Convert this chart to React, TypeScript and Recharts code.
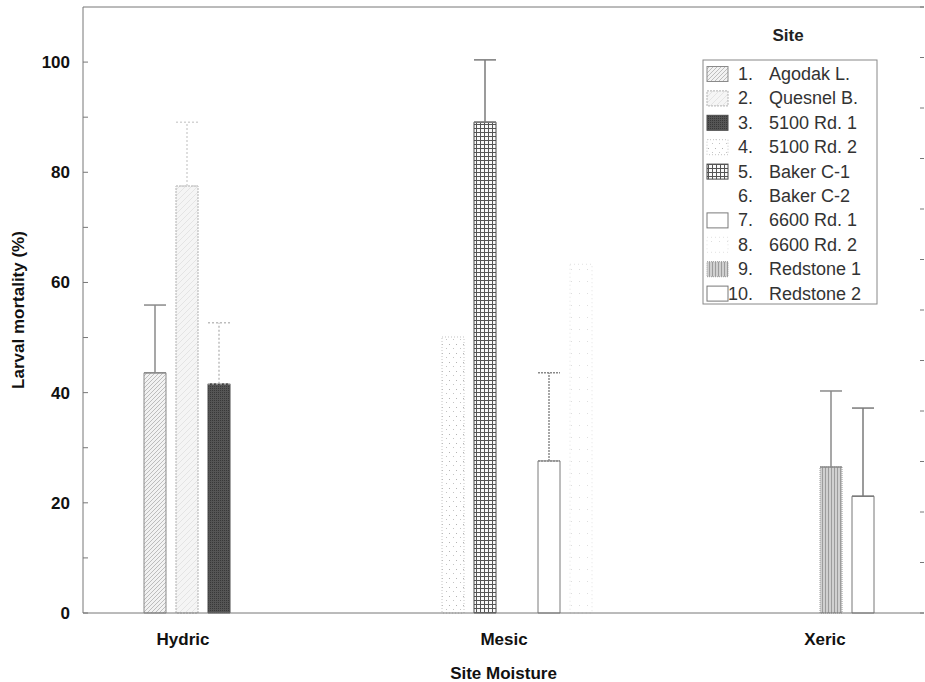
import React from "react";
import { BarChart, Bar, XAxis, YAxis, ErrorBar, Legend } from "recharts";

const moistureClasses = ["Hydric", "Mesic", "Xeric"];

const siteNames = [
  "Agodak L.",
  "Quesnel B.",
  "5100 Rd. 1",
  "5100 Rd. 2",
  "Baker C-1",
  "Baker C-2",
  "6600 Rd. 1",
  "6600 Rd. 2",
  "Redstone 1",
  "Redstone 2",
];

const siteMoisture = [
  "Hydric", "Hydric", "Hydric",
  "Mesic", "Mesic", "Mesic", "Mesic", "Mesic",
  "Xeric", "Xeric",
];

// mean larval mortality (%) and upper error whisker
const mortality = [43.6, 77.5, 41.6, 50.1, 89.1, 61.2, 27.6, 63.3, 26.5, 21.2];
const upperError = [12.3, 11.6, 11.1, null, 11.3, null, 16.0, null, 13.8, 16.0];

const yTicks = [0, 10, 20, 30, 40, 50, 60, 70, 80, 90, 100];
const rightTicks = [0, 1, 2, 3, 4, 5, 6, 7, 8, 9, 10, 11, 12];

// bar looks
const siteFill = [
  "url(#site1)", "url(#site2)", "url(#site3)", "url(#site4)", "url(#site5)",
  "#ffffff", "#ffffff", "url(#site8)", "url(#site9)", "#ffffff",
];
const siteStroke = ["#8a8a8a", "#b0b0b0", "#4a4a4a", "#c4c4c4", "#4a4a4a", "none", "#7a7a7a", "#e2e2e2", "#9a9a9a", "#777"];
const siteDash = ["", "2 1", "", "1 2", "", "", "", "1 3", "1 1", ""];
const errStroke = ["#8a8a8a", "#d4d4d4", "#bdbdbd", "#ccc", "#7a7a7a", "#ccc", "#8a8a8a", "#ccc", "#8a8a8a", "#7a7a7a"];
const errDash = ["", "2 2", "2 2", "", "", "", "2 1", "", "", ""];

const font = "'Liberation Sans', Arial, sans-serif";

const data = moistureClasses.map((m) => {
  const row: Record<string, any> = { moisture: m };
  siteNames.forEach((_, i) => {
    const mine = siteMoisture[i] === m;
    row[`s${i + 1}`] = mine ? mortality[i] : null;
    row[`e${i + 1}`] = mine && upperError[i] != null ? [0, upperError[i]] : null;
  });
  return row;
});

const NoLabel = () => <g />;

function SiteLegend(props: any) {
  const items = [...(props.payload || [])].sort(
    (a: any, b: any) => Number(String(a.dataKey).slice(1)) - Number(String(b.dataKey).slice(1))
  );
  return (
    <svg width={185} height={290} style={{ display: "block" }}>
      <text x={88} y={15} textAnchor="middle" dominantBaseline="central"
        fontFamily={font} fontSize={17} fontWeight="bold" fill="#222">
        Site
      </text>
      <rect x={3} y={40} width={174} height={244} fill="#fff" stroke="#888" />
      {items.map((it: any) => {
        const i = Number(String(it.dataKey).slice(1)) - 1;
        const cy = 54 + i * 24.4;
        return (
          <g key={it.dataKey}>
            <rect x={7} y={cy - 7.5} width={21} height={15} fill={siteFill[i]}
              stroke={siteStroke[i]} strokeDasharray={siteDash[i] || undefined} />
            <text x={53} y={cy} textAnchor="end" dominantBaseline="central"
              fontFamily={font} fontSize={18} fill="#333">
              {`${i + 1}.`}
            </text>
            <text x={69} y={cy} dominantBaseline="central"
              fontFamily={font} fontSize={18} fill="#333">
              {it.value}
            </text>
          </g>
        );
      })}
    </svg>
  );
}

export default function App() {
  return (
    <div style={{ position: "absolute", left: 0, top: 0, width: 925, height: 682, background: "#fff" }}>
      <BarChart width={925} height={682} data={data}
        margin={{ top: 6, right: 0, bottom: 0, left: 8 }} barSize={22} barGap={10}>
        <defs>
          <pattern id="site1" width="4" height="4" patternUnits="userSpaceOnUse">
            <rect width="4" height="4" fill="#f2f2f2" />
            <path d="M-1,1 l2,-2 M0,4 l4,-4 M3,5 l2,-2" stroke="#b0b0b0" strokeWidth="0.8" />
          </pattern>
          <pattern id="site2" width="6" height="6" patternUnits="userSpaceOnUse">
            <rect width="6" height="6" fill="#f5f5f5" />
            <path d="M0,6 l6,-6" stroke="#dcdcdc" strokeWidth="0.7" />
          </pattern>
          <pattern id="site3" width="2" height="2" patternUnits="userSpaceOnUse">
            <rect width="2" height="2" fill="#555" />
            <rect width="1" height="1" fill="#383838" />
          </pattern>
          <pattern id="site4" width="7" height="9" patternUnits="userSpaceOnUse">
            <rect width="7" height="9" fill="#fff" />
            <rect x="1" y="2" width="1" height="1" fill="#b4b4b4" />
            <rect x="5" y="6" width="1" height="1" fill="#c4c4c4" />
          </pattern>
          <pattern id="site5" width="4" height="4" patternUnits="userSpaceOnUse">
            <rect width="4" height="4" fill="#fafafa" />
            <path d="M0,0.5 H4 M0.5,0 V4" stroke="#555" strokeWidth="1" />
          </pattern>
          <pattern id="site8" width="8" height="12" patternUnits="userSpaceOnUse">
            <rect width="8" height="12" fill="#fff" />
            <rect x="3" y="5" width="1" height="1" fill="#dedede" />
          </pattern>
          <pattern id="site9" width="3" height="4" patternUnits="userSpaceOnUse">
            <rect width="3" height="4" fill="#d0d0d0" />
            <path d="M0.5,0 V4" stroke="#9c9c9c" strokeWidth="1" />
          </pattern>
        </defs>

        <XAxis xAxisId="top" orientation="top" dataKey="moisture" height={1}
          tick={false} tickLine={false} axisLine={{ stroke: "#777" }} />
        <XAxis xAxisId="axisB" dataKey="moisture" height={69}
          padding={{ left: -60.5, right: -61.5 }}
          tickLine={false} axisLine={{ stroke: "#777" }} tickMargin={14}
          tick={{ fontSize: 17, fontWeight: "bold", fill: "#111", fontFamily: font }}
          label={{
            value: "Site Moisture", position: "insideBottom", offset: 3,
            style: { fontSize: 17, fontWeight: "bold", fill: "#111", fontFamily: font },
          }} />
        {moistureClasses.map((m) => (
          <XAxis key={m} xAxisId={m} dataKey="moisture" hide height={0}
            padding={{ left: -61, right: -88 }} />
        ))}

        <YAxis yAxisId="left" domain={[0, 110]} ticks={yTicks} width={75}
          tickSize={-5} tickMargin={18} axisLine={{ stroke: "#777" }}
          tickLine={{ stroke: "#777" }}
          tickFormatter={(v: number) => (v % 20 === 0 ? String(v) : "")}
          tick={{ fontSize: 17, fontWeight: "bold", fill: "#111", fontFamily: font }}
          label={{
            value: "Larval mortality (%)", angle: -90, position: "insideLeft", offset: 10,
            style: { textAnchor: "middle", fontSize: 17, fontWeight: "bold", fill: "#111", fontFamily: font },
          }} />
        <YAxis yAxisId="right" orientation="right" type="number" scale="linear"
          domain={[0, 12]} allowDataOverflow ticks={rightTicks}
          interval={0} width={1} tick={NoLabel} tickSize={-4} axisLine={false}
          tickLine={{ stroke: "#777" }} />

        {siteNames.map((name, i) => (
          <Bar key={name} dataKey={`s${i + 1}`} name={name}
            xAxisId={siteMoisture[i]} yAxisId="left"
            fill={siteFill[i]} stroke={siteStroke[i]}
            strokeDasharray={siteDash[i] || undefined}
            isAnimationActive={false}>
            {upperError[i] != null && (
              <ErrorBar dataKey={`e${i + 1}`} width={11} direction="y"
                stroke={errStroke[i]} strokeDasharray={errDash[i] || undefined}
                isAnimationActive={false} />
            )}
          </Bar>
        ))}

        <Legend layout="vertical" align="center" verticalAlign="middle"
          content={SiteLegend}
          wrapperStyle={{ left: 700, top: 20, width: 185, height: 290 }} />
      </BarChart>
    </div>
  );
}
